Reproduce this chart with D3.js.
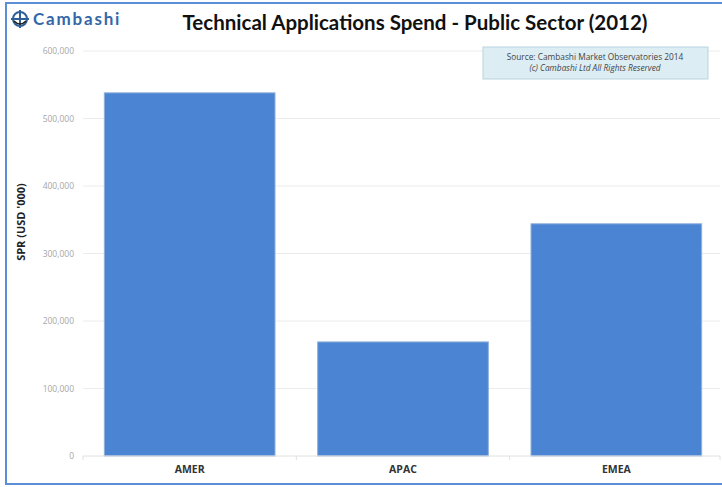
<!DOCTYPE html>
<html>
<head>
<meta charset="utf-8">
<script src="https://cdn.jsdelivr.net/npm/d3@7"></script>
<style>
  body { margin: 0; background: #fff; }
  svg { display: block; }
</style>
</head>
<body>
<div id="chart"></div>
<script>
// data
const regions = ['AMER', 'APAC', 'EMEA'];
const spend = [538000, 169000, 344000];
const yTicks = [0, 100000, 200000, 300000, 400000, 500000, 600000];
const titleText = 'Technical Applications Spend - Public Sector (2012)';
const sourceLines = ['Source: Cambashi Market Observatories 2014', '(c) Cambashi Ltd All Rights Reserved'];

const W = 722, H = 487;
const svg = d3.select('#chart').append('svg').attr('width', W).attr('height', H);

// frame
svg.append('rect')
  .attr('x', 6).attr('y', 3).attr('width', W + 10).attr('height', 481)
  .attr('fill', 'none').attr('stroke', '#5b8ed6').attr('stroke-width', 2);

// scales
const x = d3.scaleBand().domain(regions).range([83, 723]).paddingInner(0.2).paddingOuter(0.1);
const y = d3.scaleLinear().domain([0, 600000]).range([456, 51]);

// grid
svg.append('g').selectAll('line')
  .data(yTicks.slice(1))
  .join('line')
  .attr('x1', 83).attr('x2', 720)
  .attr('y1', d => y(d)).attr('y2', d => y(d))
  .attr('stroke', '#ececec').attr('stroke-width', 1);

// y axis labels
svg.append('g').selectAll('text')
  .data(yTicks)
  .join('text')
  .attr('x', 74).attr('y', d => y(d) + 3)
  .attr('text-anchor', 'end')
  .attr('font-family', 'Open Sans, sans-serif').attr('font-size', 8.5)
  .attr('fill', '#a6a6a6')
  .text(d => d3.format(',')(d));

// bars
svg.append('g').selectAll('rect')
  .data(regions)
  .join('rect')
  .attr('x', d => x(d))
  .attr('y', (d, i) => y(spend[i]))
  .attr('width', x.bandwidth())
  .attr('height', (d, i) => y(0) - y(spend[i]))
  .attr('fill', '#4a84d2')
  .attr('stroke', '#8fb0dc').attr('stroke-width', 1);

// x baseline + ticks
svg.append('line')
  .attr('x1', 83).attr('x2', 720).attr('y1', y(0)).attr('y2', y(0))
  .attr('stroke', '#e0e0e0');
const step = x.step();
const bounds = [83, x(regions[0]) + x.bandwidth() + (step - x.bandwidth()) / 2,
  x(regions[1]) + x.bandwidth() + (step - x.bandwidth()) / 2, 720];
svg.append('g').selectAll('line')
  .data(bounds)
  .join('line')
  .attr('x1', d => d).attr('x2', d => d)
  .attr('y1', y(0)).attr('y2', y(0) + 4)
  .attr('stroke', '#e0e0e0');

// category labels
svg.append('g').selectAll('text')
  .data(regions)
  .join('text')
  .attr('x', d => x(d) + x.bandwidth() / 2)
  .attr('y', 473)
  .attr('text-anchor', 'middle')
  .attr('font-family', 'Open Sans, sans-serif').attr('font-weight', 'bold').attr('font-size', 10.5)
  .attr('fill', '#333')
  .text(d => d);

// y axis title
svg.append('text')
  .attr('transform', 'translate(25,222) rotate(-90)')
  .attr('text-anchor', 'middle')
  .attr('font-family', 'Open Sans, sans-serif').attr('font-weight', 'bold').attr('font-size', 11)
  .attr('fill', '#222')
  .text("SPR (USD '000)");

// title
svg.append('text')
  .attr('x', 415).attr('y', 30)
  .attr('text-anchor', 'middle')
  .attr('font-family', 'Lato, sans-serif').attr('font-weight', 'bold').attr('font-size', 20.5)
  .attr('fill', '#111')
  .text(titleText);

// source box
svg.append('rect')
  .attr('x', 483).attr('y', 47).attr('width', 225).attr('height', 32)
  .attr('fill', '#dcedf4').attr('stroke', '#b9d3df');
svg.append('g').selectAll('text')
  .data(sourceLines)
  .join('text')
  .attr('x', 595).attr('y', (d, i) => 60 + i * 11)
  .attr('text-anchor', 'middle')
  .attr('font-family', 'Open Sans, sans-serif').attr('font-size', 8.3)
  .attr('font-style', (d, i) => i ? 'italic' : 'normal')
  .attr('fill', '#444')
  .text(d => d);

// logo
const logo = svg.append('g').attr('transform', 'translate(20,19)');
logo.append('circle').attr('r', 7).attr('fill', 'none').attr('stroke', '#2f5f98').attr('stroke-width', 2);
logo.append('line').attr('x1', -9).attr('x2', 9).attr('stroke', '#2f5f98').attr('stroke-width', 2);
logo.append('line').attr('y1', -9).attr('y2', 9).attr('stroke', '#2f5f98').attr('stroke-width', 2);
logo.append('path').attr('d', 'M-6,2 Q0,8 6,2').attr('fill', 'none').attr('stroke', '#1a1a1a').attr('stroke-width', 1.5);
svg.append('text')
  .attr('x', 33).attr('y', 25)
  .attr('font-family', 'Lato, sans-serif').attr('font-weight', 'bold').attr('font-size', 17)
  .attr('letter-spacing', 1.8)
  .attr('fill', '#3467a8')
  .text('Cambashi');
</script>
</body>
</html>
